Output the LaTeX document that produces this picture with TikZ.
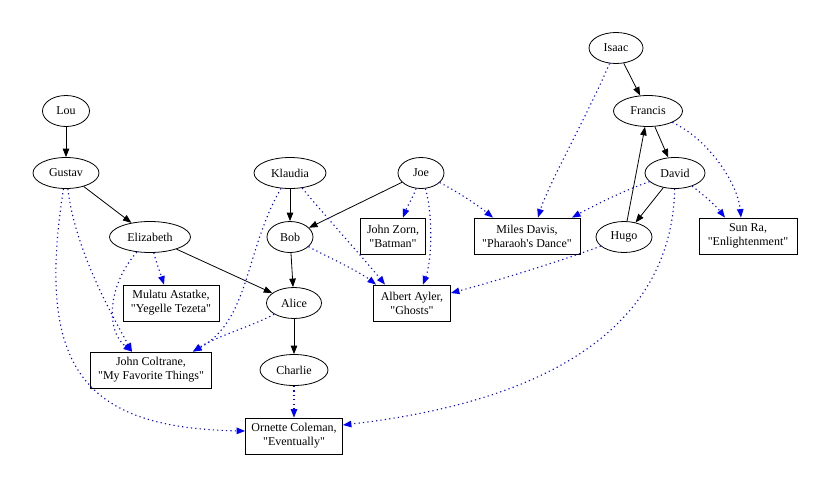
\documentclass[tikz,border=0pt]{standalone}
\usepackage{fontspec}
\newfontfamily\gvfont{Liberation Serif}
\usetikzlibrary{shapes.geometric,arrows.meta}
\begin{document}
\begin{tikzpicture}[x=1pt,y=-1pt,
  every node/.style={font=\gvfont\fontsize{12}{14}\selectfont, inner sep=0pt},
  ell/.style={ellipse, draw, line width=0.8pt, minimum height=31pt},
  rbox/.style={rectangle, draw, line width=0.8pt, minimum height=36pt, align=center},
  bedge/.style={draw=black, line width=0.8pt, -{Triangle[length=8.5pt,width=6.5pt]}},
  dedge/.style={draw=blue, line width=1.1pt, dash pattern=on 1.2pt off 3.2pt, -{Triangle[length=8.5pt,width=6.5pt]}}]
\useasboundingbox (0,0) rectangle (830,490);
% ellipse nodes
\node[ell, minimum width=47pt] (lou) at (66,111) {Lou};
\node[ell, minimum width=66pt] (gustav) at (66,173) {Gustav};
\node[ell, minimum width=81pt] (elizabeth) at (150,237) {Elizabeth};
\node[ell, minimum width=72pt] (klaudia) at (290,173) {Klaudia};
\node[ell, minimum width=46pt] (joe) at (421,173) {Joe};
\node[ell, minimum width=46pt] (bob) at (290,237) {Bob};
\node[ell, minimum width=55pt] (alice) at (294,303) {Alice};
\node[ell, minimum width=68pt] (charlie) at (294,370) {Charlie};
\node[ell, minimum width=54pt] (isaac) at (616,48) {Isaac};
\node[ell, minimum width=69pt] (francis) at (648,111) {Francis};
\node[ell, minimum width=60pt] (david) at (675,173) {David};
\node[ell, minimum width=56pt] (hugo) at (624,237) {Hugo};
% box nodes
\node[rbox, minimum width=65pt] (zorn) at (393,236) {John Zorn,\\"Batman"};
\node[rbox, minimum width=106pt] (miles) at (527,236) {Miles Davis,\\"Pharaoh's Dance"};
\node[rbox, minimum width=98pt] (sunra) at (748,236) {Sun Ra,\\"Enlightenment"};
\node[rbox, minimum width=77pt] (ayler) at (412,303) {Albert Ayler,\\"Ghosts"};
\node[rbox, minimum width=96pt] (mulatu) at (171,303) {Mulatu Astatke,\\"Yegelle Tezeta"};
\node[rbox, minimum width=121pt] (coltrane) at (151,370) {John Coltrane,\\"My Favorite Things"};
\node[rbox, minimum width=97pt] (ornette) at (294,436) {Ornette Coleman,\\"Eventually"};
% black edges
\draw[bedge] (lou) -- (gustav);
\draw[bedge] (gustav) -- (elizabeth);
\draw[bedge] (elizabeth) -- (alice);
\draw[bedge] (klaudia) -- (bob);
\draw[bedge] (joe) -- (bob);
\draw[bedge] (bob) -- (alice);
\draw[bedge] (alice) -- (charlie);
\draw[bedge] (isaac) -- (francis);
\draw[bedge] (francis) -- (david);
\draw[bedge] (david) -- (hugo);
\draw[bedge] (hugo) -- (francis);
% blue dotted edges
\draw[dedge] (gustav) .. controls (75,250) and (112,315) .. ([xshift=-19pt]coltrane.north);
\draw[dedge] (elizabeth) .. controls (108,285) and (105,330) .. ([xshift=-19pt]coltrane.north);
\draw[dedge] (klaudia) .. controls (245,250) and (250,320) .. ([xshift=42pt]coltrane.north);
\draw[dedge] (alice) .. controls (255,325) and (215,337) .. ([xshift=42pt]coltrane.north);
\draw[dedge] (elizabeth) .. controls (156,262) and (161,275) .. ([xshift=-7pt]mulatu.north);
\draw[dedge] (klaudia) .. controls (320,210) and (365,260) .. ([xshift=-27pt]ayler.north);
\draw[dedge] (bob) .. controls (330,258) and (360,272) .. ([xshift=-36pt]ayler.north);
\draw[dedge] (joe) .. controls (433,215) and (432,260) .. ([xshift=11pt]ayler.north);
\draw[dedge] (hugo) .. controls (570,258) and (500,280) .. ([yshift=10pt]ayler.east);
\draw[dedge] (joe) .. controls (414,195) and (407,207) .. ([xshift=10pt]zorn.north);
\draw[dedge] (joe) .. controls (460,193) and (480,207) .. ([xshift=-34pt]miles.north);
\draw[dedge] (isaac) .. controls (590,110) and (548,185) .. ([xshift=11pt]miles.north);
\draw[dedge] (david) .. controls (625,190) and (595,205) .. ([xshift=45pt]miles.north);
\draw[dedge] (david) .. controls (705,196) and (716,206) .. ([xshift=-23pt]sunra.north);
\draw[dedge] (francis) .. controls (710,140) and (738,185) .. ([xshift=-7pt]sunra.north);
\draw[dedge] (david) .. controls (672,320) and (560,400) .. ([yshift=11pt]ornette.east);
\draw[dedge] (charlie) -- (ornette);
\draw[dedge] (gustav) .. controls (35,370) and (85,428) .. ([yshift=5pt]ornette.west);
\end{tikzpicture}
\end{document}
